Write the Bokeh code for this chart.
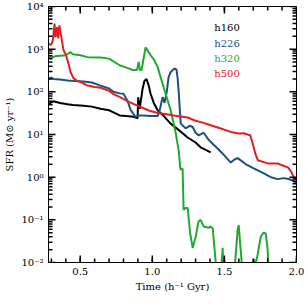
import math
from bokeh.plotting import figure
from bokeh.models import (FixedTicker, Range1d, Label, CustomJSTickFormatter,
                          NumeralTickFormatter)
from bokeh.embed import file_html
from bokeh.resources import INLINE

# ---- data ----
h160_t = [0.280, 0.315, 0.36, 0.412, 0.45, 0.523, 0.58, 0.641, 0.70, 0.731, 0.773, 0.82, 0.870,
          0.898, 0.902, 0.912, 0.933, 0.945, 0.960, 0.975, 0.988, 1.010, 1.037, 1.08, 1.127,
          1.18, 1.245, 1.30, 1.335, 1.405]
h160_s = [52, 60, 55, 51, 49, 47, 45, 40, 37, 33, 28, 27, 26, 24, 75, 40, 120, 180, 200,
          140, 90, 55, 37, 27, 18, 13, 8.5, 6.5, 5.0, 3.8]

h226_t = [0.280, 0.30, 0.315, 0.36, 0.412, 0.46, 0.523, 0.58, 0.641, 0.70, 0.731, 0.773,
          0.800, 0.828, 0.849, 0.870, 0.884, 0.905, 0.940, 0.988, 1.037, 1.051, 1.065, 1.072,
          1.085, 1.100, 1.113, 1.127, 1.140, 1.155, 1.168, 1.176, 1.183, 1.197, 1.231, 1.260,
          1.280, 1.300, 1.322, 1.356, 1.391, 1.420, 1.453, 1.490, 1.544, 1.570, 1.592,
          1.650, 1.703, 1.760, 1.822, 1.870, 1.910, 1.940, 1.970, 2.0]
h226_s = [205, 215, 200, 195, 185, 180, 175, 165, 140, 120, 100, 92, 90, 62, 38, 30, 26,
          28, 28, 27, 27, 37, 60, 75, 55, 100, 220, 290, 320, 350, 330, 200, 100, 18, 14,
          16, 15, 11, 9.5, 11, 7.5, 6.0, 4.7, 3.5, 2.2, 2.6, 2.8, 2.0, 1.6, 1.3, 1.0, 0.9,
          0.95, 0.92, 0.85, 0.72]

h320_t = [0.280, 0.30, 0.33, 0.36, 0.40, 0.433, 0.45, 0.502, 0.55, 0.641, 0.70, 0.773,
          0.82, 0.870, 0.895, 0.905, 0.915, 0.926, 0.953, 0.970, 0.988, 1.010, 1.037, 1.078,
          1.127, 1.162, 1.183, 1.195, 1.210, 1.217, 1.230, 1.245, 1.262, 1.280, 1.301, 1.320,
          1.335, 1.356, 1.391, 1.405, 1.419, 1.440, 1.453, 1.470, 1.488, 1.495, 1.510,
          1.544, 1.565, 1.592, 1.599, 1.620, 1.634, 1.660, 1.690, 1.703, 1.715, 1.730,
          1.752, 1.770, 1.787, 1.800, 1.808, 1.830]
h320_s = [650, 640, 680, 700, 720, 850, 760, 720, 650, 640, 600, 420, 370, 320, 330, 500,
          320, 330, 1100, 900, 720, 580, 380, 130, 37, 11, 4.2, 1.5, 1.6, 0.17, 0.19, 0.19,
          0.05, 0.022, 0.04, 0.09, 0.10, 0.07, 0.065, 0.07, 0.063, 0.01, 0.005, 0.003,
          0.022, 0.003, 0.001, 0.001, 0.004, 0.06, 0.075, 0.01, 0.002, 0.001, 0.003,
          0.012, 0.009, 0.015, 0.04, 0.05, 0.048, 0.02, 0.004, 0.001]

h500_t = [0.280, 0.285, 0.294, 0.305, 0.312, 0.322, 0.328, 0.334, 0.340, 0.347, 0.352,
          0.356, 0.362, 0.368, 0.384, 0.400, 0.412, 0.433, 0.453, 0.481, 0.51, 0.551, 0.60,
          0.641, 0.70, 0.731, 0.773, 0.83, 0.919, 0.98, 1.037, 1.10, 1.15, 1.245, 1.30,
          1.350, 1.405, 1.47, 1.544, 1.60, 1.634, 1.680, 1.697, 1.715, 1.732, 1.80, 1.870,
          1.900, 1.940, 1.960, 1.981, 2.0]
h500_s = [1300, 1350, 1250, 1400, 1800, 4000, 1900, 2300, 3300, 1800, 2500, 3600, 2600, 2000,
          950, 750, 550, 290, 210, 180, 165, 140, 130, 125, 105, 88, 76, 60, 44, 36, 32, 30,
          28, 25, 21, 19, 16.5, 14, 11.5, 10.5, 10.7, 9.5, 6.0, 3.5, 2.5, 2.1, 2.1, 1.9, 1.7,
          1.4, 1.0, 0.85]

x_lo, x_hi = 0.28, 2.0
y_lo, y_hi = 1e-2, 1e4
x_ticks = [0.5, 1.0, 1.5, 2.0]
x_minor = [round(0.3 + 0.1 * i, 1) for i in range(18)]
y_ticks = [1e-2, 1e-1, 1e0, 1e1, 1e2, 1e3, 1e4]
y_minor = [m * 10.0 ** e for e in range(-2, 4) for m in range(2, 10)]

series = [("h160", h160_t, h160_s, "#000000"),
          ("h226", h226_t, h226_s, "#1f4f80"),
          ("h320", h320_t, h320_s, "#22a832"),
          ("h500", h500_t, h500_s, "#e02020")]
legend_y = [3300, 1380, 620, 275]

FONT = "DejaVu Serif"
AX = "#000000"

p = figure(width=305, height=305, output_backend="svg", toolbar_location=None,
           y_axis_type="log", x_range=Range1d(x_lo, x_hi), y_range=Range1d(y_lo, y_hi),
           min_border_left=48, min_border_right=9, min_border_top=6, min_border_bottom=43)
p.grid.visible = False
p.outline_line_color = AX
p.outline_line_width = 1
p.background_fill_color = "white"
p.border_fill_color = "white"

for name, t, s, c in series:
    p.line(t, s, line_color=c, line_width=2)

# inward ticks on all four sides, drawn as short screen-length rays from the frame edges
eps_x = (x_hi - x_lo) * 1e-5
f_y = 1.0001
for ticks, ln in ((x_ticks, 7), (x_minor, 4)):
    ticks_in = [min(max(t, x_lo + eps_x), x_hi - eps_x) for t in ticks]
    p.ray(ticks_in, [y_lo * f_y] * len(ticks), length=ln, length_units="screen",
          angle=math.pi / 2, line_color=AX, line_width=1.5)
    p.ray(ticks_in, [y_hi / f_y] * len(ticks), length=ln, length_units="screen",
          angle=-math.pi / 2, line_color=AX, line_width=1.5)
for ticks, ln in ((y_ticks, 7), (y_minor, 4)):
    ticks_in = [min(max(t, y_lo * f_y), y_hi / f_y) for t in ticks]
    p.ray([x_lo + eps_x] * len(ticks), ticks_in, length=ln, length_units="screen",
          angle=0, line_color=AX, line_width=1.5)
    p.ray([x_hi - eps_x] * len(ticks), ticks_in, length=ln, length_units="screen",
          angle=math.pi, line_color=AX, line_width=1.5)

sup = CustomJSTickFormatter(code="""
const m = {'-':'\u207b','0':'\u2070','1':'\u00b9','2':'\u00b2','3':'\u00b3','4':'\u2074'};
const e = Math.round(Math.log10(tick));
return '10' + String(e).split('').map(c => m[c]).join('');
""")

xa = p.xaxis[0]
xa.ticker = FixedTicker(ticks=x_ticks, minor_ticks=x_minor)
xa.formatter = NumeralTickFormatter(format="0.0")
xa.axis_label = "Time (h\u207b\u00b9 Gyr)"
ya = p.yaxis[0]
ya.ticker = FixedTicker(ticks=y_ticks, minor_ticks=y_minor)
ya.formatter = sup
ya.axis_label = "SFR (M\u2299 yr\u207b\u00b9)"

for ax in (xa, ya):
    ax.major_tick_in = 0
    ax.major_tick_out = 0
    ax.minor_tick_in = 0
    ax.minor_tick_out = 0
    ax.axis_line_color = AX
    ax.major_label_text_font = FONT
    ax.major_label_text_font_size = "10px"
    ax.major_label_text_color = "black"
    ax.axis_label_text_font = FONT
    ax.axis_label_text_font_size = "10px"
    ax.axis_label_text_font_style = "normal"
    ax.axis_label_text_color = "black"
    ax.major_label_standoff = 5
    ax.axis_label_standoff = 3

for (name, t, s, c), yy in zip(series, legend_y):
    p.add_layout(Label(x=1.43, y=yy, text=name, text_color=c, text_font=FONT,
                       text_font_size="10px", text_baseline="middle"))

open("out.html", "w").write(file_html(p, INLINE))
